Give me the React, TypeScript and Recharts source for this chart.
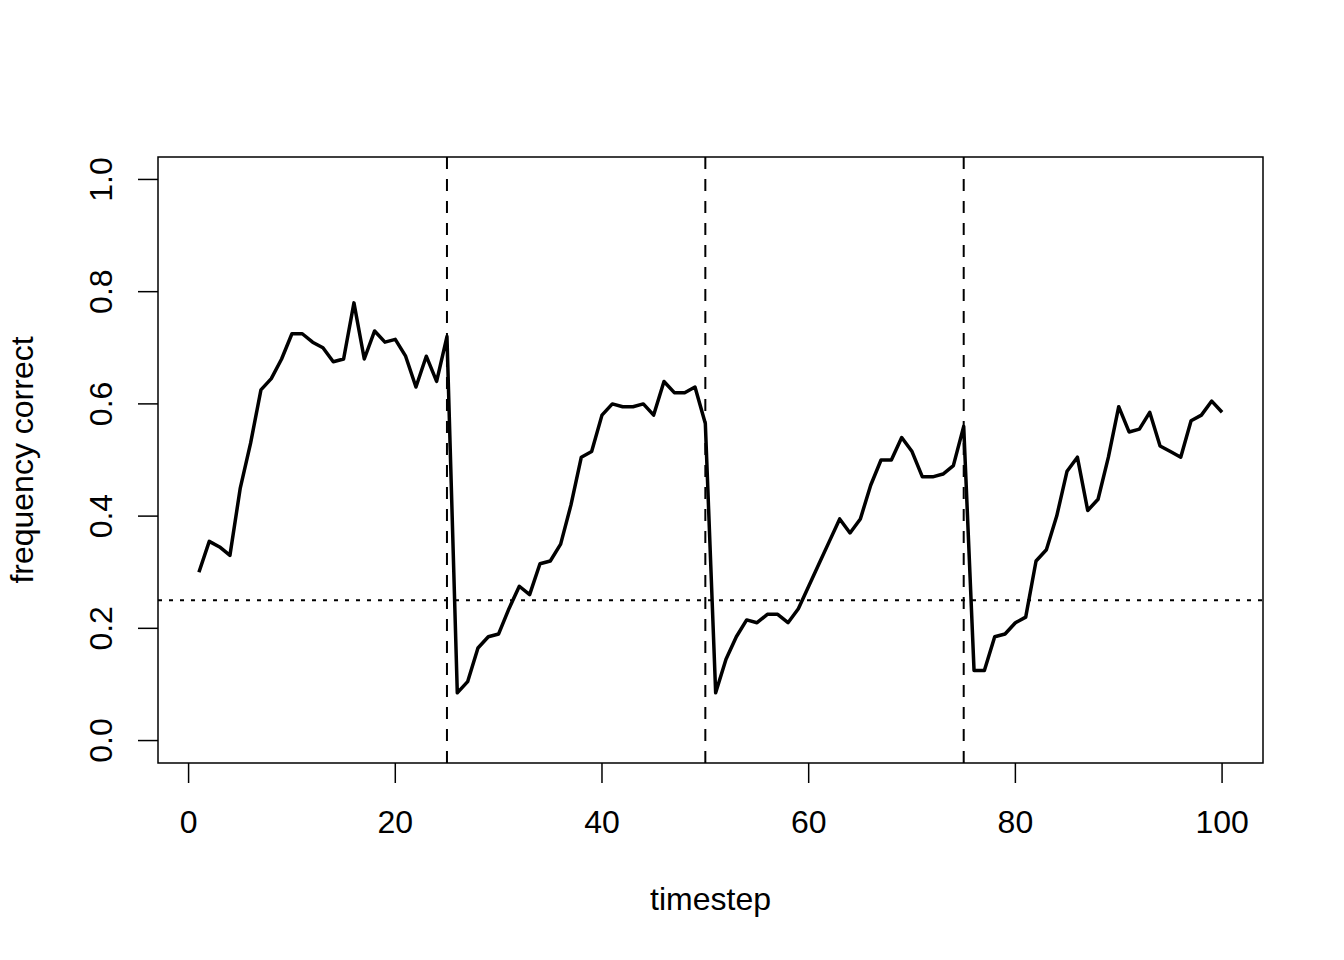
import { LineChart, Line, XAxis, YAxis, ReferenceLine, ReferenceArea } from "recharts"

const timesteps = [
  1, 2, 3, 4, 5, 6, 7, 8, 9, 10,
  11, 12, 13, 14, 15, 16, 17, 18, 19, 20,
  21, 22, 23, 24, 25, 26, 27, 28, 29, 30,
  31, 32, 33, 34, 35, 36, 37, 38, 39, 40,
  41, 42, 43, 44, 45, 46, 47, 48, 49, 50,
  51, 52, 53, 54, 55, 56, 57, 58, 59, 60,
  61, 62, 63, 64, 65, 66, 67, 68, 69, 70,
  71, 72, 73, 74, 75, 76, 77, 78, 79, 80,
  81, 82, 83, 84, 85, 86, 87, 88, 89, 90,
  91, 92, 93, 94, 95, 96, 97, 98, 99, 100,
]

const freqCorrect = [
  0.3, 0.355, 0.345, 0.33, 0.45, 0.53, 0.625, 0.645, 0.68, 0.725,
  0.725, 0.71, 0.7, 0.675, 0.68, 0.78, 0.68, 0.73, 0.71, 0.715,
  0.685, 0.63, 0.685, 0.64, 0.72, 0.085, 0.105, 0.165, 0.185, 0.19,
  0.235, 0.275, 0.26, 0.315, 0.32, 0.35, 0.42, 0.505, 0.515, 0.58,
  0.6, 0.595, 0.595, 0.6, 0.58, 0.64, 0.62, 0.62, 0.63, 0.565,
  0.085, 0.145, 0.185, 0.215, 0.21, 0.225, 0.225, 0.21, 0.235, 0.275,
  0.315, 0.355, 0.395, 0.37, 0.395, 0.455, 0.5, 0.5, 0.54, 0.515,
  0.47, 0.47, 0.475, 0.49, 0.56, 0.125, 0.125, 0.185, 0.19, 0.21,
  0.22, 0.32, 0.34, 0.4, 0.48, 0.505, 0.41, 0.43, 0.505, 0.595,
  0.55, 0.555, 0.585, 0.525, 0.515, 0.505, 0.57, 0.58, 0.605, 0.585,
]

const xTicks = [0, 20, 40, 60, 80, 100]
const yTicks = [0, 0.2, 0.4, 0.6, 0.8, 1.0]
const switchPoints = [25, 50, 75]
const chanceLevel = 0.25

// R-style 4% padding around the data range
const xDomain: [number, number] = [-2.96, 103.96]
const yDomain: [number, number] = [-0.04, 1.04]

const FONT = "'Liberation Sans', Arial, Helvetica, sans-serif"
const FONT_SIZE = 32
const AXIS_SPACE = 40

function XTick({ x, y, payload }: any) {
  return (
    <g>
      <line x1={x} x2={x} y1={y} y2={y + 20} stroke="#000" strokeWidth={1.5} />
      <text x={x} y={y + 70} textAnchor="middle" fontFamily={FONT} fontSize={FONT_SIZE} fill="#000">
        {payload.value}
      </text>
    </g>
  )
}

function YTick({ x, y, payload }: any) {
  const tx = x - 46
  return (
    <g>
      <line x1={x - 20} x2={x} y1={y} y2={y} stroke="#000" strokeWidth={1.5} />
      <text
        x={tx}
        y={y}
        transform={`rotate(-90, ${tx}, ${y})`}
        textAnchor="middle"
        fontFamily={FONT}
        fontSize={FONT_SIZE}
        fill="#000"
      >
        {Number(payload.value).toFixed(1)}
      </text>
    </g>
  )
}

function XLabel({ viewBox }: any) {
  const cx = viewBox.x + viewBox.width / 2
  return (
    <text x={cx} y={viewBox.y + 147} textAnchor="middle" fontFamily={FONT} fontSize={FONT_SIZE} fill="#000">
      timestep
    </text>
  )
}

function YLabel({ viewBox }: any) {
  const cy = viewBox.y + viewBox.height / 2
  const tx = 33
  return (
    <text
      x={tx}
      y={cy}
      transform={`rotate(-90, ${tx}, ${cy})`}
      textAnchor="middle"
      fontFamily={FONT}
      fontSize={FONT_SIZE}
      fill="#000"
    >
      frequency correct
    </text>
  )
}

export default function App() {
  const data = timesteps.map((t, i) => ({ t, freq: freqCorrect[i] }))

  return (
    <div style={{ position: "absolute", left: 0, top: 0, width: 1344, height: 960, background: "#fff" }}>
      <LineChart
        width={1344}
        height={960}
        data={data}
        margin={{ top: 157, right: 81, bottom: 197 - AXIS_SPACE, left: 158 - AXIS_SPACE }}
      >
        <XAxis
          dataKey="t"
          type="number"
          domain={xDomain}
          allowDataOverflow
          ticks={xTicks}
          height={AXIS_SPACE}
          axisLine={false}
          tickLine={false}
          tickSize={0}
          tickMargin={0}
          tick={(props: any) => <XTick {...props} />}
          interval={0}
          label={(props: any) => <XLabel {...props} />}
        />
        <YAxis
          type="number"
          domain={yDomain}
          allowDataOverflow
          ticks={yTicks}
          width={AXIS_SPACE}
          axisLine={false}
          tickLine={false}
          tickSize={0}
          tickMargin={0}
          tick={(props: any) => <YTick {...props} />}
          interval={0}
          label={(props: any) => <YLabel {...props} />}
        />
        <ReferenceArea
          x1={xDomain[0]}
          x2={xDomain[1]}
          y1={yDomain[0]}
          y2={yDomain[1]}
          fill="none"
          fillOpacity={0}
          stroke="#000"
          strokeWidth={1.5}
          ifOverflow="visible"
        />
        {switchPoints.map((s) => (
          <ReferenceLine key={s} x={s} stroke="#000" strokeWidth={2} strokeDasharray="12 10" />
        ))}
        <ReferenceLine y={chanceLevel} stroke="#000" strokeWidth={2} strokeDasharray="4 7" />
        <Line
          type="linear"
          dataKey="freq"
          stroke="#000"
          strokeWidth={3.5}
          strokeLinejoin="round"
          dot={false}
          activeDot={false}
          isAnimationActive={false}
        />
      </LineChart>
    </div>
  )
}
